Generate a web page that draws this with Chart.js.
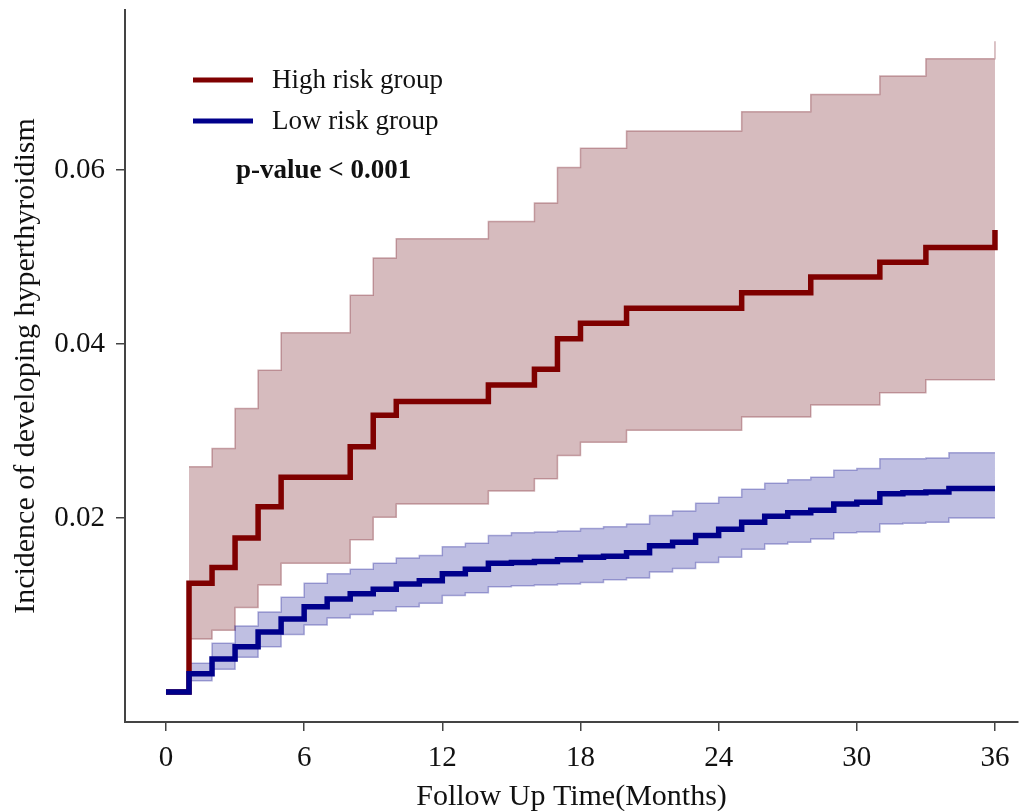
<!DOCTYPE html>
<html>
<head>
<meta charset="utf-8">
<script src="https://cdn.jsdelivr.net/npm/chart.js@4.4.1/dist/chart.umd.min.js"></script>
<style>
  html, body { margin:0; padding:0; background:#fff; }
  #wrap { width:1026px; height:811px; position:relative; }
</style>
</head>
<body>
<div id="wrap"><canvas id="kmChart"></canvas></div>
<script>
// months where the curves step
const highTime = [0,1,2,3,4,5,8,9,10,14,16,17,18,20,25,28,31,33,36];
const highEst  = [0,0.0125,0.0143,0.0177,0.0213,0.0247,0.0282,0.0318,0.0334,0.0353,0.0371,0.0406,0.0424,0.0441,0.0459,0.0477,0.0494,0.0511,0.0531];

const highCiTime = [1,2,3,4,5,8,9,10,14,16,17,18,20,25,28,31,33,36];
const highUpper  = [0.0259,0.0280,0.0326,0.0370,0.0413,0.0456,0.0499,0.0521,0.0541,0.0562,0.0603,0.0625,0.0645,0.0667,0.0687,0.0708,0.0728,0.0748];
const highLower  = [0.0061,0.0071,0.0097,0.0123,0.0148,0.0175,0.0201,0.0216,0.0231,0.0245,0.0272,0.0287,0.0301,0.0316,0.0330,0.0344,0.0359,0.0359];

const lowTime = [0,1,2,3,4,5,6,7,8,9,10,11,12,13,14,15,16,17,18,19,20,21,22,23,24,25,26,27,28,29,30,31,32,33,34,36];
const lowEst  = [0,0.0021,0.0038,0.0052,0.0069,0.0084,0.0098,0.0107,0.0113,0.0118,0.0124,0.0128,0.0136,0.0141,0.0148,0.0149,0.0150,0.0152,0.0155,0.0156,0.0160,0.0168,0.0172,0.0180,0.0187,0.0195,0.0202,0.0206,0.0209,0.0216,0.0218,0.0228,0.0229,0.0230,0.0234,0.0234];

const lowCiTime = [1,2,3,4,5,6,7,8,9,10,11,12,13,14,15,16,17,18,19,20,21,22,23,24,25,26,27,28,29,30,31,32,33,34,36];
const lowUpper  = [0.0033,0.0056,0.0076,0.0092,0.0109,0.0125,0.0136,0.0141,0.0148,0.0154,0.0157,0.0167,0.0171,0.0180,0.0183,0.0184,0.0185,0.0188,0.0190,0.0193,0.0203,0.0208,0.0217,0.0224,0.0233,0.0240,0.0244,0.0247,0.0255,0.0257,0.0268,0.0268,0.0269,0.0275,0.0275];
const lowLower  = [0.0013,0.0026,0.0040,0.0052,0.0066,0.0077,0.0085,0.0089,0.0093,0.0098,0.0102,0.0111,0.0114,0.0121,0.0122,0.0123,0.0124,0.0126,0.0129,0.0131,0.0138,0.0142,0.0149,0.0155,0.0164,0.0170,0.0172,0.0176,0.0183,0.0184,0.0193,0.0194,0.0195,0.0200,0.0200];

const xTicks = [0,6,12,18,24,30,36];
const yTicks = [0.02,0.04,0.06];
const groupNames = ['High risk group','Low risk group'];
const pText = 'p-value < 0.001';

const RED = '#7f0000';
const BLUE = '#00008b';
const SERIF = '"Liberation Serif", "Times New Roman", serif';

const pts = (xs, ys) => xs.map((x,i)=>({x:x, y:ys[i]}));

// legend + p-value drawn inside the plot
const innerLegend = {
    id:'innerLegend',
    afterDraw(c){
        const ctx = c.ctx;
        const cols = [RED, BLUE];
        const ys = [80, 121];
        ctx.save();
        ctx.textBaseline = 'middle';
        ctx.textAlign = 'left';
        ys.forEach((y,i)=>{
            ctx.strokeStyle = cols[i];
            ctx.lineWidth = 5;
            ctx.beginPath();
            ctx.moveTo(193, y);
            ctx.lineTo(253, y);
            ctx.stroke();
            ctx.fillStyle = '#111';
            ctx.font = '27px ' + SERIF;
            ctx.fillText(groupNames[i], 272, y + 1);
        });
        ctx.font = 'bold 27px ' + SERIF;
        ctx.fillText(pText, 236, 171);
        ctx.restore();
    }
};

new Chart(document.getElementById('kmChart'), {
    type:'line',
    data:{
        datasets:[
            { label:groupNames[1], data:pts(lowTime, lowEst), borderColor:BLUE, borderWidth:5.5, stepped:'before', fill:false, pointRadius:0 },
            { label:groupNames[0], data:pts(highTime, highEst), borderColor:RED, borderWidth:5.5, stepped:'before', fill:false, pointRadius:0 },
            { label:'low upper', data:pts(lowCiTime, lowUpper), borderColor:'rgba(0,0,139,0.3)', borderWidth:1.5, stepped:'before', fill:'+1', backgroundColor:'rgba(0,0,139,0.25)', pointRadius:0 },
            { label:'low lower', data:pts(lowCiTime, lowLower), borderColor:'rgba(0,0,139,0.3)', borderWidth:1.5, stepped:'before', fill:false, pointRadius:0 },
            { label:'high upper', data:pts(highCiTime, highUpper), borderColor:'rgba(120,30,40,0.35)', borderWidth:1.5, stepped:'before', fill:'+1', backgroundColor:'rgba(120,30,40,0.3)', pointRadius:0 },
            { label:'high lower', data:pts(highCiTime, highLower), borderColor:'rgba(120,30,40,0.35)', borderWidth:1.5, stepped:'before', fill:false, pointRadius:0 }
        ]
    },
    options:{
        responsive:true,
        maintainAspectRatio:false,
        animation:false,
        layout:{ padding:{ top:10, right:8, left:0, bottom:0 } },
        plugins:{ legend:{display:false}, tooltip:{enabled:false} },
        scales:{
            x:{
                type:'linear',
                min:-1.78, max:37.0,
                afterBuildTicks: s => { s.ticks = xTicks.map(v=>({value:v})); },
                afterFit: s => { s.height = 89; s.paddingLeft = 0; s.paddingRight = 0; },
                ticks:{ color:'#111', font:{family:SERIF, size:29}, padding:10, callback:v=>String(v) },
                grid:{ display:true, drawOnChartArea:false, drawTicks:true, tickLength:9, color:'#444', lineWidth:1.5 },
                border:{ display:true, color:'#444', width:2 },
                title:{ display:true, text:'Follow Up Time(Months)', color:'#111', font:{family:SERIF, size:30}, padding:{top:0,bottom:-4} }
            },
            y:{
                type:'linear',
                min:-0.00345, max:0.0784,
                afterBuildTicks: s => { s.ticks = yTicks.map(v=>({value:v})); },
                afterFit: s => { s.width = 125; s.paddingTop = 0; s.paddingBottom = 0; },
                ticks:{ color:'#111', font:{family:SERIF, size:29}, padding:11, callback:v=>v.toFixed(2) },
                grid:{ display:true, drawOnChartArea:false, drawTicks:true, tickLength:9, color:'#444', lineWidth:1.5 },
                border:{ display:true, color:'#444', width:2 },
                title:{ display:true, text:'Incidence of developing hyperthyroidism', color:'#111', font:{family:SERIF, size:30}, padding:{top:8,bottom:0} }
            }
        }
    },
    plugins:[innerLegend]
});
</script>
</body>
</html>
